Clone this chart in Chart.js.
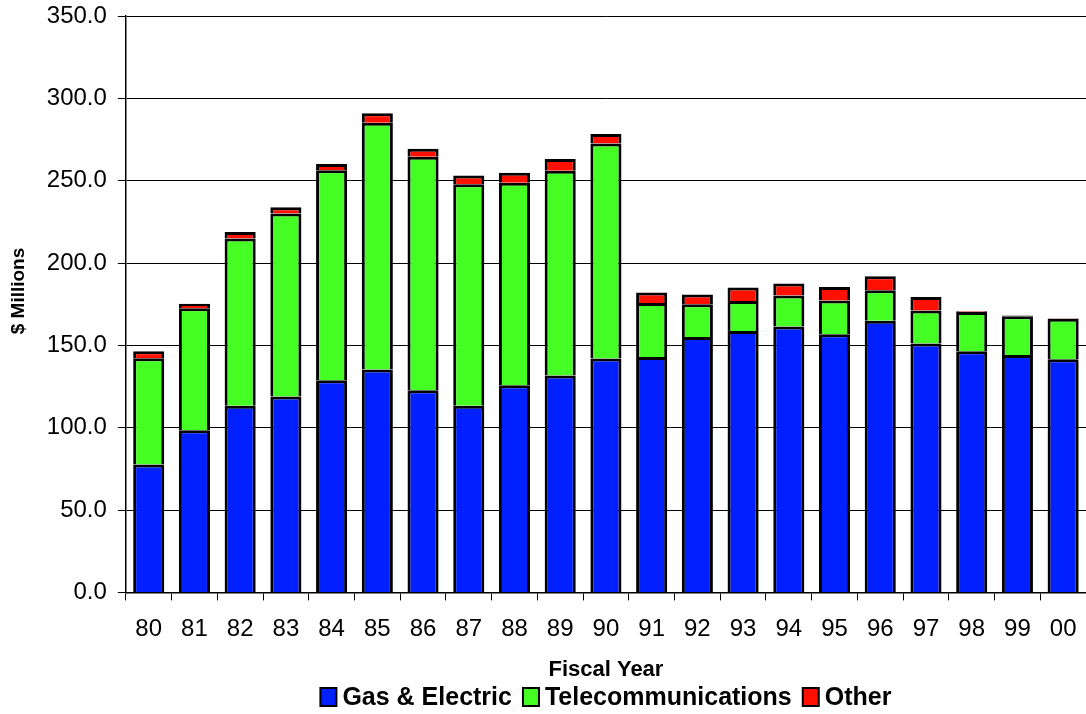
<!DOCTYPE html>
<html>
<head>
<meta charset="utf-8">
<title>Revenue by Fiscal Year</title>
<script src="https://cdn.jsdelivr.net/npm/chart.js@4/dist/chart.umd.min.js"></script>
<style>
  html, body { margin: 0; padding: 0; background: #fff; overflow: hidden; }
  #wrap { width: 1086px; height: 714px; }
</style>
</head>
<body>
<div id="wrap"><canvas id="chart"></canvas></div>
<script>
// Fiscal years (x axis)
const years = ["80", "81", "82", "83", "84", "85", "86", "87", "88", "89", "90",
  "91", "92", "93", "94", "95", "96", "97", "98", "99", "00"];

// $ Millions per segment
const gasElectric = [77.6, 98.4, 113.4, 118.9, 128.8, 135.3, 122.7, 113.4, 125.8, 131.7, 142.0,
  143.0, 155.1, 158.8, 161.4, 156.8, 164.9, 151.1, 146.4, 144.2, 141.6];
const telecom = [64.6, 74.1, 101.5, 111.2, 127.6, 149.9, 141.8, 134.5, 122.9, 124.3, 130.6,
  32.8, 19.9, 18.2, 18.9, 20.4, 18.6, 20.1, 23.9, 23.5, 24.5];
const other = [4.2, 2.7, 4.0, 3.7, 3.7, 5.7, 4.9, 5.3, 6.1, 7.1, 5.7,
  6.3, 5.9, 8.1, 7.3, 8.3, 8.5, 8.2, 0.4, 0.4, 0.4];

// y axis ticks
const yTicks = [0, 50, 100, 150, 200, 250, 300, 350];

const font = "Arial, 'Liberation Sans', sans-serif";

function segment(label, data, color) {
  return {
    label: label,
    data: data,
    backgroundColor: color,
    borderColor: "#000",
    borderWidth: 3,
    barPercentage: 0.68,
    categoryPercentage: 1.0,
  };
}

// legend drawn by hand so it sits centred under the plot like the original
const bottomLegend = {
  id: "bottomLegend",
  afterDraw(chart) {
    const c = chart.ctx;
    const area = chart.chartArea;
    const box = 16, boxH = 18, gap = 6, itemGap = 11;
    c.save();
    c.font = "bold 25px " + font;
    c.textBaseline = "middle";
    const items = chart.data.datasets.map((ds) => ({
      text: ds.label, color: ds.backgroundColor, w: c.measureText(ds.label).width,
    }));
    let total = 0;
    items.forEach((it, i) => { total += box + gap + it.w + (i ? itemGap : 0); });
    let x = (area.left + area.right) / 2 - total / 2;
    const y = 697;
    items.forEach((it) => {
      c.fillStyle = it.color;
      c.fillRect(x, y - boxH / 2, box, boxH);
      c.lineWidth = 2;
      c.strokeStyle = "#000";
      c.strokeRect(x, y - boxH / 2, box, boxH);
      c.fillStyle = "#000";
      c.fillText(it.text, x + box + gap, y + 1);
      x += box + gap + it.w + itemGap;
    });
    c.restore();
  },
};

const ctx = document.getElementById("chart").getContext("2d");

new Chart(ctx, {
  type: "bar",
  data: {
    labels: years,
    datasets: [
      segment("Gas & Electric", gasElectric, "#0020ff"),
      segment("Telecommunications", telecom, "#45ff24"),
      segment("Other", other, "#ff1000"),
    ],
  },
  options: {
    responsive: true,
    maintainAspectRatio: false,
    animation: false,
    layout: { padding: { top: 16, left: 7, right: 0, bottom: 33 } },
    scales: {
      x: {
        stacked: true,
        grid: {
          display: true,
          offset: true,
          drawOnChartArea: false,
          color: "#000",
          tickLength: 8,
        },
        border: { color: "#000", width: 1.5 },
        ticks: {
          color: "#000",
          font: { family: font, size: 24, lineHeight: 1.9 },
          padding: 6,
          maxRotation: 0,
        },
        title: {
          display: true,
          text: "Fiscal Year",
          color: "#000",
          font: { family: font, size: 22, weight: "bold", lineHeight: 1 },
          padding: { top: 1, bottom: 0 },
        },
      },
      y: {
        stacked: true,
        min: 0,
        max: 350,
        afterBuildTicks: (axis) => { axis.ticks = yTicks.map((v) => ({ value: v })); },
        grid: { color: "#000", tickLength: 8 },
        border: { color: "#000", width: 1.5 },
        ticks: {
          color: "#000",
          font: { family: font, size: 24, lineHeight: 0.3 },
          padding: 11,
          callback: (v) => Number(v).toFixed(1),
        },
        title: {
          display: true,
          // leading spaces nudge the rotated title a little above centre, as in the original
          text: "     $ Millions",
          color: "#000",
          font: { family: font, size: 19, weight: "bold" },
          padding: { top: 0, bottom: 6 },
        },
      },
    },
    plugins: {
      legend: { display: false },
      tooltip: { enabled: false },
    },
  },
  plugins: [bottomLegend],
});
</script>
</body>
</html>
